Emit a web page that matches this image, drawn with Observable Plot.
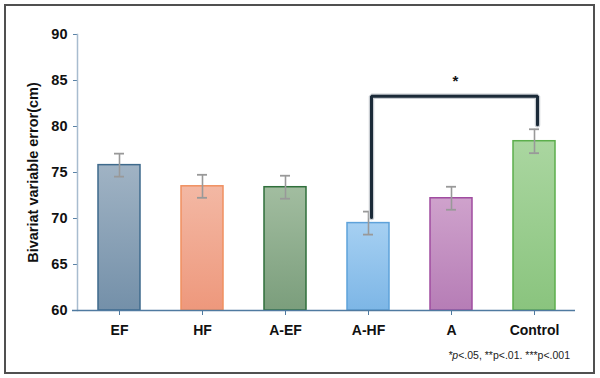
<!DOCTYPE html>
<html>
<head>
<meta charset="utf-8">
<script src="https://cdn.jsdelivr.net/npm/d3@7"></script>
<script src="https://cdn.jsdelivr.net/npm/@observablehq/plot@0.6"></script>
<style>
  body { margin: 0; background: #fff; }
  #wrap { position: relative; width: 600px; height: 378px; overflow: hidden; font-family: "Liberation Sans", Arial, sans-serif; }
  #frame { position: absolute; left: 4px; top: 4px; width: 587px; height: 366px; border: 2px solid #505050; pointer-events: none; }
  #note { position: absolute; right: 30px; top: 349px; font-size: 10.5px; color: #222; }
  #chart { position: absolute; left: 0; top: 0; }
</style>
</head>
<body>
<div id="wrap">
  <div id="chart"></div>
  <div id="frame"></div>
  <div id="note"><i>*p</i>&lt;.05, **p&lt;.01. ***p&lt;.001</div>
</div>
<script>
const categories = ["EF", "HF", "A-EF", "A-HF", "A", "Control"];
const means = [75.8, 73.5, 73.4, 69.5, 72.2, 78.4];
const errors = [1.25, 1.25, 1.25, 1.25, 1.25, 1.3];
const yTicks = [60, 65, 70, 75, 80, 85, 90];
const bracketFrom = "A-HF";
const bracketTo = "Control";
const bracketTop = 83.3;
const bracketEnds = [70.1, 80.2];
const sigLabel = "*";

const fillTop = ["#a0b3c4", "#f3b8a4", "#a2bda0", "#a6d0f2", "#cfa2cc", "#aad6a0"];
const fillBottom = ["#7490a9", "#ee987c", "#7b9e7c", "#7db6e6", "#b67db6", "#8ac47e"];
const strokes = ["#3e6a8c", "#f09060", "#2f6f3b", "#5ea2da", "#a04ca0", "#5cae4c"];

const data = categories.map((c, i) => ({cat: c, mean: means[i], err: errors[i], idx: i}));
const bracket = [
  {cat: bracketFrom, y: bracketEnds[0]},
  {cat: bracketFrom, y: bracketTop},
  {cat: bracketTo, y: bracketTop},
  {cat: bracketTo, y: bracketEnds[1]}
];

const plot = Plot.plot({
  width: 600,
  height: 378,
  marginLeft: 77,
  marginRight: 25,
  marginTop: 34,
  marginBottom: 68,
  style: {fontFamily: "'Liberation Sans', Arial, sans-serif", background: "transparent"},
  x: {domain: categories, paddingInner: 0.5, paddingOuter: 0.25, label: null},
  y: {domain: [60, 90], label: null},
  marks: [
    Plot.barY(data, {x: "cat", y1: 60, y2: "mean", fill: d => `url(#grad${d.idx})`, stroke: d => strokes[d.idx], strokeWidth: 1.5}),
    Plot.ruleX(data, {x: "cat", y1: d => d.mean - d.err, y2: d => d.mean + d.err, stroke: "#999", strokeWidth: 1.6}),
    Plot.tickY(data, {x: "cat", y: d => d.mean + d.err, stroke: "#999", strokeWidth: 1.8, insetLeft: 16, insetRight: 16}),
    Plot.tickY(data, {x: "cat", y: d => d.mean - d.err, stroke: "#999", strokeWidth: 1.8, insetLeft: 16, insetRight: 16}),
    Plot.line(bracket, {x: "cat", y: "y", stroke: "#c9cdd2", strokeWidth: 5.5, strokeLinejoin: "miter", dx: 3}),
    Plot.line(bracket, {x: "cat", y: "y", stroke: "#1b2a38", strokeWidth: 3, strokeLinejoin: "miter", dx: 3}),
    Plot.text([sigLabel], {x: () => "A", y: 84.9, dx: 4, text: d => d, fontSize: 15, fontWeight: "bold", fill: "#111"}),
    Plot.axisY({ticks: yTicks, tickSize: 4, tickPadding: 6, stroke: "#5a82a6", fontSize: 14.5, fontWeight: "bold", fill: "#111",
      label: "Bivariat variable error(cm)", labelAnchor: "center", labelArrow: "none", labelOffset: 50}),
    Plot.axisX({tickSize: 5, tickPadding: 10, stroke: "#4f7aa0", fontSize: 14, fontWeight: "bold", fill: "#111"}),
    Plot.frame({anchor: "left", stroke: "#a8bccf", strokeWidth: 1.5}),
    Plot.ruleY([60], {stroke: "#4f7aa0", strokeWidth: 1.5, insetLeft: -5})
  ]
});

// gradients
const ns = "http://www.w3.org/2000/svg";
const defs = document.createElementNS(ns, "defs");
fillTop.forEach((t, i) => {
  const g = document.createElementNS(ns, "linearGradient");
  g.setAttribute("id", "grad" + i);
  g.setAttribute("x1", "0"); g.setAttribute("y1", "0"); g.setAttribute("x2", "0"); g.setAttribute("y2", "1");
  [[0, t], [1, fillBottom[i]]].forEach(([o, c]) => {
    const s = document.createElementNS(ns, "stop");
    s.setAttribute("offset", o);
    s.setAttribute("stop-color", c);
    g.appendChild(s);
  });
  defs.appendChild(g);
});
plot.insertBefore(defs, plot.firstChild);
document.getElementById("chart").appendChild(plot);
</script>
</body>
</html>
